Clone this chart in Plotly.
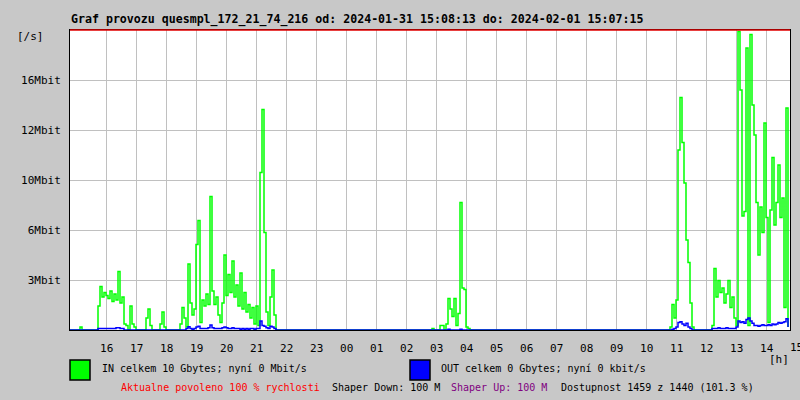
import plotly.graph_objects as go

# ---- data (Mbit/s), one sample per 4 minutes, starting at the left edge of the plot ----
t_start = 14.778          # hour of first sample (left edge of the plot)
t_step = 4 / 60           # 4 minutes per sample

in_mbit = [
    0, 0, 0, 0, 0, 0.2, 0, 0, 0, 0, 0, 0, 0, 0,
    1.6, 2.9, 2.2, 2.5, 2.3, 2.1, 2.6, 1.9, 2.4, 2.0, 3.9, 1.8, 2.2, 0.4, 0.3, 0, 1.6, 0.4, 0.2, 0,
    0, 0, 0, 0, 0.8, 1.4, 0.3, 0, 0, 0, 0, 0.4, 1.2, 0.2, 0, 0, 0, 0, 0, 0, 0,
    0.4, 1.5, 0.8, 0.2, 4.4, 1.8, 1.0, 1.4, 5.7, 7.3, 0.5, 2.0, 1.6, 2.4, 1.7, 8.9, 2.6, 1.7, 2.2, 1.0,
    0.5, 1.8, 5.0, 2.3, 3.7, 2.5, 4.6, 2.2, 3.0, 1.6, 3.8, 1.4, 2.5, 1.2, 1.7, 0.8, 1.5, 0.4, 1.6, 0.3,
    10.5, 14.7, 6.5, 1.2, 0.3, 2.2, 4.0, 1.0, 0,
    0, 0, 0, 0, 0, 0, 0, 0, 0, 0, 0, 0, 0, 0, 0, 0, 0, 0, 0, 0,
    0, 0, 0, 0, 0, 0, 0, 0, 0, 0, 0, 0, 0, 0, 0, 0, 0, 0, 0, 0,
    0, 0, 0, 0, 0, 0, 0, 0, 0, 0, 0, 0, 0, 0, 0, 0, 0, 0, 0, 0,
    0, 0, 0, 0, 0, 0, 0, 0, 0, 0, 0, 0, 0, 0, 0, 0, 0,
    0.1, 0, 0, 0, 0.3, 0.3, 0, 0.4, 2.1, 1.4, 0.9, 2.1, 0.3, 1.1, 8.5, 2.8, 2.7, 0.2, 0.1, 0,
    0, 0, 0, 0, 0, 0, 0, 0, 0, 0, 0, 0, 0, 0, 0, 0, 0, 0, 0, 0,
    0, 0, 0, 0, 0, 0, 0, 0, 0, 0, 0, 0, 0, 0, 0, 0, 0, 0, 0, 0,
    0, 0, 0, 0, 0, 0, 0, 0, 0, 0, 0, 0, 0, 0, 0, 0, 0, 0, 0, 0,
    0, 0, 0, 0, 0, 0, 0, 0, 0, 0, 0, 0, 0, 0, 0, 0, 0, 0, 0, 0,
    0, 0, 0, 0, 0, 0, 0, 0, 0, 0, 0, 0, 0, 0, 0, 0, 0, 0, 0,
    0.2, 1.7, 0.8, 2.0, 12.0, 15.5, 12.5, 9.8, 6.0, 4.5, 1.8, 0.2, 0, 0,
    0, 0, 0, 0, 0, 0, 0,
    0.3, 4.1, 2.2, 3.3, 2.5, 2.8, 1.8, 2.4, 3.3, 1.5, 2.2, 0.8,
    0.3, 19.9, 16.0, 7.6, 7.9, 18.8, 0.3, 19.7, 15.0, 13.0, 8.5, 5.0, 8.2, 6.5, 13.8,
    7.5, 0.5, 8.0, 11.5, 7.0, 8.5, 11.0, 7.5, 8.8, 1.5, 14.8, 0.2,
]

out_mbit = [
    0, 0, 0, 0, 0, 0, 0, 0, 0, 0, 0, 0, 0, 0,
    0.1, 0.1, 0.1, 0.1, 0.1, 0.1, 0.1, 0.1, 0.1, 0.15, 0.15, 0.1, 0.1, 0, 0, 0, 0, 0, 0, 0,
    0, 0, 0, 0, 0, 0, 0, 0, 0, 0, 0, 0, 0, 0, 0, 0, 0, 0, 0, 0, 0,
    0, 0, 0, 0.1, 0.22, 0.1, 0.05, 0.1, 0.2, 0.25, 0.1, 0.1, 0.1, 0.1, 0.15, 0.33, 0.15, 0.1, 0.1, 0.1,
    0.1, 0.15, 0.2, 0.15, 0.1, 0.1, 0.15, 0.1, 0.1, 0.1, 0.05, 0.1, 0.05, 0.1, 0.05, 0.1, 0.1, 0.05, 0.1, 0.1,
    0.6, 0.3, 0.25, 0.15, 0.1, 0.25, 0.2, 0.1, 0,
    0, 0, 0, 0, 0, 0, 0, 0, 0, 0, 0, 0, 0, 0, 0, 0, 0, 0, 0, 0,
    0, 0, 0, 0, 0, 0, 0, 0, 0, 0, 0, 0, 0, 0, 0, 0, 0, 0, 0, 0,
    0, 0, 0, 0, 0, 0, 0, 0, 0, 0, 0, 0, 0, 0, 0, 0, 0, 0, 0, 0,
    0, 0, 0, 0, 0, 0, 0, 0, 0, 0, 0, 0, 0, 0, 0, 0, 0,
    0, 0, 0, 0, 0, 0, 0, 0, 0.05, 0, 0, 0, 0, 0, 0.05, 0, 0, 0, 0, 0,
    0, 0, 0, 0, 0, 0, 0, 0, 0, 0, 0, 0, 0, 0, 0, 0, 0, 0, 0, 0,
    0, 0, 0, 0, 0, 0, 0, 0, 0, 0, 0, 0, 0, 0, 0, 0, 0, 0, 0, 0,
    0, 0, 0, 0, 0, 0, 0, 0, 0, 0, 0, 0, 0, 0, 0, 0, 0, 0, 0, 0,
    0, 0, 0, 0, 0, 0, 0, 0, 0, 0, 0, 0, 0, 0, 0, 0, 0, 0, 0, 0,
    0, 0, 0, 0, 0, 0, 0, 0, 0, 0, 0, 0, 0, 0, 0, 0, 0, 0, 0,
    0, 0.05, 0.1, 0.2, 0.5, 0.55, 0.4, 0.3, 0.45, 0.2, 0.1, 0, 0, 0,
    0, 0, 0, 0, 0, 0, 0,
    0.1, 0.1, 0.1, 0.15, 0.1, 0.1, 0.1, 0.15, 0.1, 0.1, 0.1, 0.1,
    0.2, 0.6, 0.5, 0.55, 0.45, 0.7, 0.8, 0.6, 0.45, 0.3, 0.3, 0.25, 0.3, 0.35, 0.3,
    0.3, 0.35, 0.3, 0.4, 0.35, 0.4, 0.5, 0.45, 0.5, 0.55, 0.75, 0.2,
]

hour_ticks = list(range(16, 39))
hour_labels = ["16", "17", "18", "19", "20", "21", "22", "23", "00", "01", "02", "03",
               "04", "05", "06", "07", "08", "09", "10", "11", "12", "13", "14"]
y_tickvals = [10 / 3, 20 / 3, 10, 40 / 3, 50 / 3]
y_ticktext = ["3Mbit", "6Mbit", "10Mbit", "12Mbit", "16Mbit"]
y_max = 20

title_text = "Graf provozu quesmpl_172_21_74_216 od: 2024-01-31 15:08:13 do: 2024-02-01 15:07:15"
in_label = "IN celkem 10 Gbytes; nyní 0 Mbit/s"
out_label = "OUT celkem 0 Gbytes; nyní 0 kbit/s"

times = [t_start + i * t_step for i in range(len(in_mbit))]

MONO = "DejaVu Sans Mono"
BG = "#c8c8c8"

# plot area in pixels: x 70..790, y 30..330
def px(x):
    return (x - 70) / 720.0

def py(y):
    return (330 - y) / 300.0

fig = go.Figure()
fig.add_trace(go.Scatter(x=times, y=in_mbit, mode="lines", line=dict(color="#00ff00", width=1.5, shape="hv"),
                         showlegend=False, hoverinfo="skip", cliponaxis=True))
fig.add_trace(go.Scatter(x=times, y=out_mbit, mode="lines", line=dict(color="#0000ff", width=1.5, shape="hv"),
                         showlegend=False, hoverinfo="skip", cliponaxis=True))

fig.update_layout(
    width=800, height=400,
    margin=dict(l=70, r=10, t=30, b=70, autoexpand=False),
    paper_bgcolor=BG, plot_bgcolor="white",
    font=dict(family=MONO, size=11, color="black"),
    xaxis=dict(range=[t_start, t_start + 24], tickvals=hour_ticks, ticktext=hour_labels,
               showgrid=True, gridcolor="#c0c0c0", gridwidth=1, zeroline=False,
               showline=True, linecolor="black", linewidth=1, mirror=True,
               ticks="", ticklabelstandoff=8, tickfont=dict(family=MONO, size=11)),
    yaxis=dict(range=[0, y_max], tickvals=y_tickvals, ticktext=y_ticktext,
               showgrid=True, gridcolor="#c0c0c0", gridwidth=1, zeroline=False,
               showline=True, linecolor="black", linewidth=1, mirror=True,
               ticks="", ticklabelstandoff=6, tickfont=dict(family=MONO, size=11)),
)

shapes = [
    # red maximum line at top of plot
    dict(type="line", xref="paper", yref="paper", x0=0, x1=1, y0=1, y1=1,
         line=dict(color="#e00000", width=1.5)),
    # legend colour boxes
    dict(type="rect", xref="paper", yref="paper", x0=px(70), x1=px(90), y0=py(380), y1=py(360),
         fillcolor="#00ff00", line=dict(color="black", width=1.5)),
    dict(type="rect", xref="paper", yref="paper", x0=px(410), x1=px(430), y0=py(380), y1=py(360),
         fillcolor="#0000ff", line=dict(color="black", width=1.5)),
]
fig.update_layout(shapes=shapes)

def note(text, x, y, color="black", size=10, anchor="left", bold=False):
    fig.add_annotation(text=("<b>%s</b>" % text) if bold else text, xref="paper", yref="paper",
                       x=px(x), y=py(y), xanchor=anchor, yanchor="middle", showarrow=False,
                       font=dict(family=MONO, size=size, color=color))

note(title_text, 69, 19, size=11.6, bold=True)
note("[/s]", 15, 37, size=11)
note("15", 796.7, 347, size=11, anchor="center")
note("[h]", 767, 359, size=11)
note(in_label, 100, 368, size=10)
note(out_label, 439, 368, size=10)
note("Aktualne povoleno 100 % rychlosti", 119, 387, color="#ff0000", size=10)
note("Shaper Down: 100 M", 330, 387, size=10)
note("Shaper Up: 100 M", 449, 387, color="#800080", size=10)
note("Dostupnost 1459 z 1440 (101.3 %)", 559, 387, size=10)

fig.write_html("out.html", config={"displayModeBar": False},
               post_script="document.body.style.margin='0';document.body.style.overflow='hidden';")
